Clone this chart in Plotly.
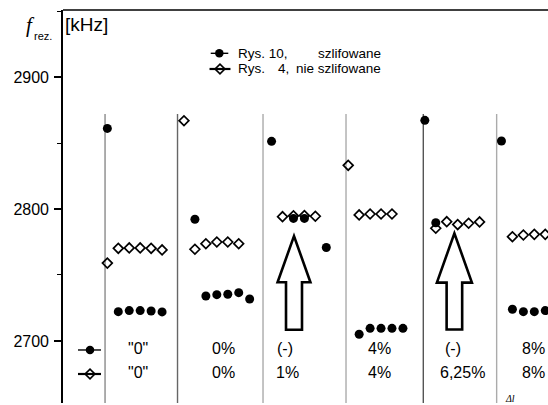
import plotly.graph_objects as go

# Rys. 10 - szlifowane (filled dots): sample index and resonance frequency [kHz]
ground_x = [4, 5, 6, 7, 8, 9,
            12, 13, 14, 15, 16, 17,
            19, 21, 22, 24,
            27, 28, 29, 30, 31,
            33, 34,
            40, 41, 42, 43, 44]
ground_f = [2861.1, 2722.2, 2723.0, 2723.0, 2722.7, 2722.0,
            2792.2, 2734.1, 2735.1, 2735.4, 2736.6, 2731.8,
            2851.3, 2792.9, 2792.9, 2770.8,
            2705.1, 2709.6, 2709.6, 2709.6, 2709.6,
            2867.2, 2789.6,
            2851.5, 2724.0, 2722.2, 2722.2, 2723.0]

# Rys. 4 - nie szlifowane (open diamonds)
unground_x = [4, 5, 6, 7, 8, 9,
              11, 12, 13, 14, 15, 16,
              20, 21, 22, 23,
              26, 27, 28, 29, 30,
              34, 35, 36, 37, 38,
              41, 42, 43, 44]
unground_f = [2759.0, 2770.2, 2770.5, 2770.5, 2770.2, 2769.0,
              2866.9, 2769.5, 2773.7, 2775.0, 2775.0, 2773.7,
              2794.2, 2794.8, 2795.0, 2794.5,
              2833.1, 2795.5, 2796.2, 2796.2, 2796.2,
              2785.4, 2790.4, 2788.2, 2789.2, 2790.2,
              2779.0, 2780.3, 2780.8, 2780.8]

# Group separators and the two label rows under each group
separator_x = [3.79, 10.41, 18.22, 25.8, 32.86, 39.56]
separator_top = 2872
separator_colors = ["#8a8a8a", "#666666", "#ababab", "#ababab", "#555555", "#ababab"]
labels_ground = ['"0"', "0%", "(-)", "4%", "(-)", "8%"]
labels_unground = ['"0"', "0%", "1%", "4%", "6,25%", "8%"]
labels_ground_x = [6.76, 14.57, 20.23, 28.9, 35.57, 42.88]
labels_unground_x = [6.76, 14.57, 20.41, 28.9, 36.48, 42.88]

# Hollow up-arrows: centre x, tip, neck and tail frequencies, half-widths
arrow_x = [21.05, 35.7]
arrow_tip = [2779.5, 2781.6]
arrow_neck = [2744.5, 2744.2]
arrow_tail = [2708.5, 2708.7]
arrow_head_half = [1.5, 1.6]
arrow_shaft_half = [0.73, 0.71]

y_ticks = [2700, 2800, 2900]
y_range = [2653.0, 2950.8]
x_range = [-0.05, 44.25]

FONT = "Liberation Sans, Arial, sans-serif"
SERIF = "Liberation Serif, Times New Roman, serif"

fig = go.Figure()

fig.add_trace(go.Scatter(
    x=unground_x, y=unground_f, mode="markers", name="Rys. 4, nie szlifowane",
    marker=dict(symbol="diamond-open", size=7.5, color="black", line=dict(width=1.7)),
    showlegend=False, cliponaxis=True))
fig.add_trace(go.Scatter(
    x=ground_x, y=ground_f, mode="markers", name="Rys. 10, szlifowane",
    marker=dict(symbol="circle", size=9, color="black"),
    showlegend=False, cliponaxis=True))

# Key symbols (drawn on an overlay axis spanning the plot area in 0..1 units)
key_sym_x = [0.0557, 0.0557, 0.3223, 0.3237]
key_sym_y = [0.1349, 0.0738, 0.8898, 0.8499]
key_sym = ["circle", "diamond-open", "circle", "diamond-open"]
key_line_x0 = [0.0309, 0.0309, 0.3046, 0.3021]
key_line_x1 = [0.0783, 0.0783, 0.3408, 0.3453]
key_line_w = [1.4, 2.2, 1.4, 2.2]

shapes = []
for lx0, lx1, ly, lw in zip(key_line_x0, key_line_x1, key_sym_y, key_line_w):
    shapes.append(dict(type="line", xref="paper", yref="paper", x0=lx0, x1=lx1,
                       y0=ly, y1=ly, line=dict(color="black", width=lw)))

for sx, sy, sym in zip(key_sym_x, key_sym_y, key_sym):
    is_dot = sym == "circle"
    fig.add_trace(go.Scatter(
        x=[sx], y=[sy], xaxis="x2", yaxis="y2", mode="markers", showlegend=False,
        marker=dict(symbol="circle" if is_dot else "diamond",
                    size=8.5 if is_dot else 7.5,
                    color="black" if is_dot else "white",
                    line=dict(width=0 if is_dot else 1.7, color="black")),
        hoverinfo="skip"))

# top frame line
shapes.append(dict(type="line", xref="paper", yref="paper", x0=0, x1=1, y0=1, y1=1,
                   line=dict(color="black", width=1.5)))

for sx, col in zip(separator_x, separator_colors):
    shapes.append(dict(type="line", xref="x", yref="y", x0=sx, x1=sx,
                       y0=y_range[0] - 20, y1=separator_top,
                       line=dict(color=col, width=1.4), layer="below"))

for ax, at, an, al, hh, sh in zip(arrow_x, arrow_tip, arrow_neck, arrow_tail,
                                  arrow_head_half, arrow_shaft_half):
    path = (f"M{ax - sh},{al} L{ax - sh},{an} L{ax - hh},{an} L{ax},{at} "
            f"L{ax + hh},{an} L{ax + sh},{an} L{ax + sh},{al} Z")
    shapes.append(dict(type="path", xref="x", yref="y", path=path,
                       fillcolor="white", line=dict(color="black", width=2.6)))

annotations = []
row_ground_y = 0.1386
row_unground_y = 0.0776
for lx, txt in zip(labels_ground_x, labels_ground):
    annotations.append(dict(x=lx, y=row_ground_y, xref="x", yref="paper", text=txt,
                            showarrow=False, font=dict(family=FONT, size=16, color="black"),
                            xanchor="center", yanchor="middle"))
for lx, txt in zip(labels_unground_x, labels_unground):
    annotations.append(dict(x=lx, y=row_unground_y, xref="x", yref="paper", text=txt,
                            showarrow=False, font=dict(family=FONT, size=16, color="black"),
                            xanchor="center", yanchor="middle"))

# key texts
key_texts = [("Rys. 10,", 0.3561, 0.8898), ("szlifowane", 0.5211, 0.8898),
             ("Rys.", 0.3561, 0.8499), ("4,", 0.4392, 0.8499),
             ("nie szlifowane", 0.4764, 0.8499)]
for txt, tx, ty in key_texts:
    annotations.append(dict(x=tx, y=ty, xref="paper", yref="paper", text=txt,
                            showarrow=False, xanchor="left", yanchor="middle",
                            font=dict(family=FONT, size=13.5, color="black")))

# axis title pieces
annotations.append(dict(x=-0.068, y=0.962, xref="paper", yref="paper", text="<i>f</i>",
                        showarrow=False, xanchor="center", yanchor="middle",
                        font=dict(family=SERIF, size=21, color="black")))
annotations.append(dict(x=-0.041, y=0.934, xref="paper", yref="paper", text="rez.",
                        showarrow=False, xanchor="center", yanchor="middle",
                        font=dict(family=FONT, size=11, color="black")))
annotations.append(dict(x=0.0, y=0.962, xref="paper", yref="paper", text="[kHz]",
                        showarrow=False, xanchor="left", yanchor="middle",
                        font=dict(family=FONT, size=19, color="black")))
# x-axis symbol at the lower edge
annotations.append(dict(x=0.909, y=-0.005, xref="paper", yref="paper", text="<i>Δl</i>",
                        showarrow=False, xanchor="left", yanchor="bottom",
                        font=dict(family=SERIF, size=10, color="black"), borderpad=0))

fig.update_layout(
    width=548, height=405,
    margin=dict(l=63, r=0, t=10, b=2),
    paper_bgcolor="white", plot_bgcolor="white",
    showlegend=False,
    shapes=shapes, annotations=annotations,
    xaxis=dict(range=x_range, visible=False, fixedrange=True),
    yaxis=dict(range=y_range, showgrid=False, zeroline=False,
               showline=True, linecolor="black", linewidth=1.6,
               ticks="outside", ticklen=7, tickwidth=1.6, tickcolor="black",
               ticklabelstandoff=2,
               tickvals=y_ticks, ticktext=[str(v) for v in y_ticks],
               tickfont=dict(family=FONT, size=16, color="black"),
               minor=dict(dtick=50, tick0=2650, ticks="outside", ticklen=4,
                          tickwidth=1.4, tickcolor="black")),
    xaxis2=dict(range=[0, 1], overlaying="x", visible=False, domain=[0, 1]),
    yaxis2=dict(range=[0, 1], overlaying="y", visible=False, domain=[0, 1]),
)

fig.write_html("out.html")
